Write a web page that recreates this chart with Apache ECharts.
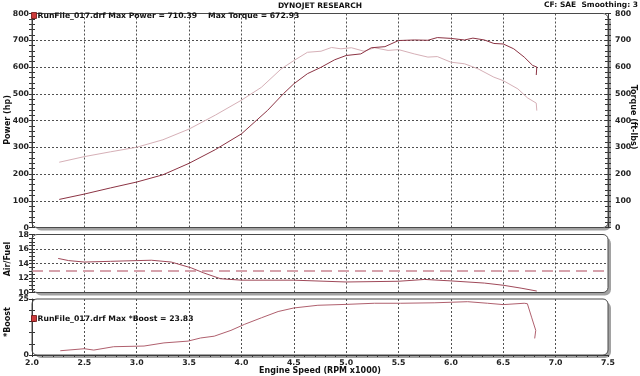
<!DOCTYPE html>
<html><head><meta charset="utf-8">
<script src="https://cdn.jsdelivr.net/npm/echarts@6/dist/echarts.min.js"></script>
<style>html,body{margin:0;padding:0;background:#fff}#c{width:640px;height:376px}</style>
</head><body><div id="c"></div>
<script>
// ---- data (rpm x1000, value) ----
const powerData = [[2.26,105],[2.5,125],[2.75,148],[3.0,170],[3.25,197],[3.5,240],[3.75,291],[4.0,350],[4.25,438],[4.4,500],[4.5,537],[4.63,575],[4.76,599],[4.89,627],[5.0,643],[5.14,649],[5.24,672],[5.37,676],[5.5,699],[5.65,701],[5.78,700],[5.87,710],[6.0,707],[6.13,701],[6.21,708],[6.32,701],[6.41,688],[6.5,686],[6.6,668],[6.7,637],[6.78,606],[6.82,600],[6.815,570]];
const torqueData = [[2.26,244],[2.5,265],[2.75,283],[3.0,300],[3.25,328],[3.5,368],[3.75,420],[4.0,476],[4.19,524],[4.38,593],[4.5,624],[4.63,655],[4.76,659],[4.86,673],[4.95,668],[5.05,672],[5.17,659],[5.27,672],[5.4,662],[5.5,665],[5.65,649],[5.78,637],[5.87,639],[6.0,618],[6.13,612],[6.26,593],[6.41,562],[6.5,549],[6.64,518],[6.73,485],[6.815,465],[6.82,437]];
const afrData = [[2.25,14.7],[2.35,14.4],[2.5,14.2],[2.75,14.3],[3.0,14.4],[3.14,14.45],[3.33,14.2],[3.52,13.4],[3.64,12.7],[3.8,11.9],[4.0,11.7],[4.5,11.7],[5.0,11.45],[5.5,11.55],[5.75,11.8],[6.0,11.6],[6.32,11.3],[6.5,11.0],[6.67,10.6],[6.82,10.2]];
const afrTarget = [13.0];
const boostData = [[2.27,1.9],[2.5,2.8],[2.59,2.2],[2.78,3.7],[3.07,4.0],[3.26,5.4],[3.49,6.2],[3.61,7.6],[3.74,8.4],[3.9,11.0],[4.03,13.7],[4.19,16.6],[4.35,19.4],[4.5,21.0],[4.73,22.2],[5.0,22.6],[5.27,23.1],[5.52,23.1],[5.84,23.3],[6.16,23.8],[6.35,23.1],[6.5,22.5],[6.7,23.1],[6.73,22.9],[6.77,16.9],[6.81,11.0],[6.8,7.4]];
const maxPower = '710.39', maxTorque = '672.93', maxBoost = '23.83';
const xRange = [2, 7.5, 0.5];
const powerRange = [0, 800, 100];
const afrRange = [10, 18, 2];
const boostRange = [0, 25, 5];
const titleText = 'DYNOJET RESEARCH';
const cfText = 'CF: SAE  Smoothing: 3';
const runName = 'RunFile_017.drf';

const F = 'DejaVu Sans';
const chart = echarts.init(document.getElementById('c'), null, {renderer:'canvas'});
const dotted = {show:true, showMinLine:false, showMaxLine:false, lineStyle:{color:'#505050', width:1, type:[2,2]}};
const lbl = {fontFamily:F, fontWeight:'bold', fontSize:7.8, color:'#222'};
const axisCol = '#333';

const grids = [
  {left:32, top:13.5, width:576, height:214},
  {left:32, top:234.5, width:576, height:58},
  {left:32, top:299, width:576, height:56}
];

function xa(i, opts) {
  return Object.assign({type:'value', gridIndex:i, min:xRange[0], max:xRange[1], interval:xRange[2],
    axisLine:{show:false}, axisTick:{show:false}, axisLabel:{show:false}, splitLine:dotted}, opts||{});
}
function ya(i, r, pos, opts) {
  return Object.assign({type:'value', gridIndex:i, position:pos, min:r[0], max:r[1], interval:r[2],
    axisLine:{show:true, lineStyle:{color:axisCol}}, axisTick:{show:true, length:3, lineStyle:{color:axisCol}},
    axisLabel:Object.assign({margin:3}, lbl), splitLine:{show:false}}, opts||{});
}
function inner(i, r, pos, minorN) {
  return {type:'value', gridIndex:i, position:pos, min:r[0], max:r[1], interval:r[2],
    axisLine:{show:false}, axisTick:{show:true, inside:true, length:3, lineStyle:{color:axisCol}},
    minorTick:{show:minorN>0, splitNumber:minorN||1, length:3, lineStyle:{color:axisCol}},
    axisLabel:{show:false}, splitLine:{show:false}};
}

const frames = [];
grids.forEach(g => {
  frames.push({type:'rect', z:-20, shape:{x:g.left+3, y:g.top+3, width:g.width, height:g.height, r:6}, style:{fill:'#a2a2a2'}});
  frames.push({type:'rect', z:-19, shape:{x:g.left, y:g.top, width:g.width, height:g.height, r:5}, style:{fill:'#ffffff'}});
  frames.push({type:'rect', z:50, shape:{x:g.left, y:g.top, width:g.width, height:g.height, r:5}, style:{fill:null, stroke:'#4a4a4a', lineWidth:1}});
});
const txt = (x, y, t, o) => ({type:'text', z:60, x:x, y:y, style:Object.assign({text:t, fontFamily:F, fontWeight:'bold', fontSize:7.5, fill:'#111', textVerticalAlign:'middle'}, o||{})});
const graphics = frames.concat([
  txt(320, 6, titleText, {textAlign:'center'}),
  txt(638, 5, cfText, {textAlign:'right'}),
  {type:'rect', z:60, shape:{x:31.5, y:12.5, width:5, height:6}, style:{fill:'#cc3a3a', stroke:'#6a1010', lineWidth:0.8}},
  txt(37.5, 16, runName + ' Max Power = ' + maxPower, {fontSize:7.7}),
  txt(208, 16, 'Max Torque = ' + maxTorque, {fontSize:7.7}),
  {type:'rect', z:60, shape:{x:31.5, y:315.5, width:5, height:6}, style:{fill:'#cc3a3a', stroke:'#6a1010', lineWidth:0.8}},
  txt(37.5, 319, runName + ' Max *Boost = ' + maxBoost, {fontSize:7.7}),
  txt(8, 120, 'Power (hp)', {textAlign:'center', fontSize:8}),
  txt(633, 117, 'Torque (ft-lbs)', {textAlign:'center', fontSize:8}),
  txt(8, 259, 'Air/Fuel', {textAlign:'center', fontSize:8}),
  txt(8, 322, '*Boost', {textAlign:'center', fontSize:8}),
  txt(320, 371, 'Engine Speed (RPM x1000)', {textAlign:'center', fontSize:8})
]);
// rotate axis names
graphics.forEach(g => {
  if (g.style && (g.style.text === 'Power (hp)' || g.style.text === 'Air/Fuel' || g.style.text === '*Boost')) g.rotation = Math.PI/2;
  if (g.style && g.style.text === 'Torque (ft-lbs)') g.rotation = -Math.PI/2;
});

const option = {
  animation:false,
  backgroundColor:'#fff',
  grid:grids,
  graphic:graphics,
  xAxis:[
    xa(0), xa(1),
    xa(2, {axisLine:{show:true, lineStyle:{color:axisCol}}, axisTick:{show:true, length:2, lineStyle:{color:axisCol}},
      minorTick:{show:true, splitNumber:5, length:2, lineStyle:{color:axisCol}},
      axisLabel:Object.assign({show:true, margin:4, formatter:v => v.toFixed(1)}, lbl)}),
    {type:'value', gridIndex:2, min:xRange[0], max:xRange[1], interval:xRange[2], axisLine:{show:false},
      axisTick:{show:true, inside:true, length:2, lineStyle:{color:axisCol}},
      minorTick:{show:true, splitNumber:5, length:2, lineStyle:{color:axisCol}}, axisLabel:{show:false}, splitLine:{show:false}}
  ],
  yAxis:[
    ya(0, powerRange, 'left', {minorTick:{show:true, splitNumber:5, length:3, lineStyle:{color:axisCol}}, splitLine:dotted}),
    ya(0, powerRange, 'right', {minorTick:{show:true, splitNumber:5, length:3, lineStyle:{color:axisCol}}, axisLabel:Object.assign({margin:7}, lbl)}),
    inner(0, powerRange, 'left', 5),
    inner(0, powerRange, 'right', 5),
    ya(1, afrRange, 'left', {minorTick:{show:true, splitNumber:4, length:3, lineStyle:{color:axisCol}}, splitLine:dotted}),
    inner(1, afrRange, 'left', 4),
    ya(2, boostRange, 'left', {axisLabel:Object.assign({margin:3, formatter:v => (v===boostRange[0]||v===boostRange[1]) ? String(v) : ''}, lbl)}),
    inner(2, boostRange, 'left', 0)
  ],
  series:[
    {type:'line', name:'Torque', xAxisIndex:0, yAxisIndex:1, data:torqueData, showSymbol:false, symbol:'none', lineStyle:{color:'#d6b0b7', width:1}, z:3},
    {type:'line', name:'Power', xAxisIndex:0, yAxisIndex:0, data:powerData, showSymbol:false, symbol:'none', lineStyle:{color:'#8c3444', width:1}, z:4},
    {type:'line', name:'AFR', xAxisIndex:1, yAxisIndex:4, data:afrData, showSymbol:false, symbol:'none', lineStyle:{color:'#a04a5a', width:1}, z:4,
      markLine:{silent:true, symbol:'none', label:{show:false}, lineStyle:{color:'#d6a2ac', width:2, type:[11,6]},
        data:afrTarget.map(v => ({yAxis:v}))}},
    {type:'line', name:'Boost', xAxisIndex:2, yAxisIndex:6, data:boostData, showSymbol:false, symbol:'none', lineStyle:{color:'#b0606e', width:1}, z:4}
  ]
};
chart.setOption(option);
</script>
</body></html>
